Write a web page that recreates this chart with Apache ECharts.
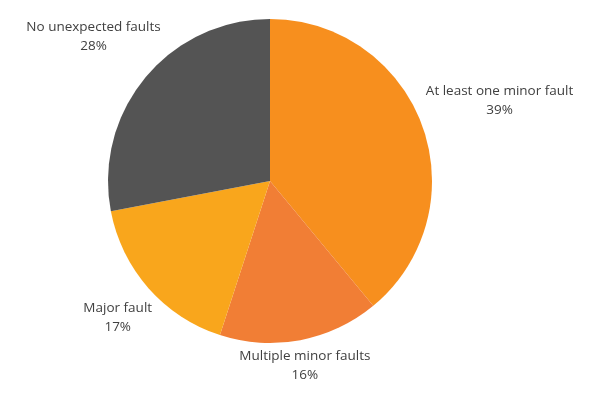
<!DOCTYPE html>
<html>
<head>
<meta charset="utf-8">
<script src="https://cdn.jsdelivr.net/npm/echarts@6/dist/echarts.min.js"></script>
<style>
html,body{margin:0;padding:0;background:#fff;}
#chart{width:600px;height:400px;}
</style>
</head>
<body>
<div id="chart"></div>
<script>
const categories = ['At least one minor fault', 'Multiple minor faults', 'Major fault', 'No unexpected faults'];
const values = [39, 16, 17, 28];
const colors = ['#F78F1E', '#F17E35', '#F9A61C', '#545454'];
const labelGap = [82, 24, 41, 67];

const chart = echarts.init(document.getElementById('chart'), null, {renderer: 'canvas'});
chart.setOption({
  animation: false,
  backgroundColor: '#ffffff',
  series: [{
    type: 'pie',
    center: [270, 181],
    radius: 162,
    startAngle: 90,
    clockwise: true,
    avoidLabelOverlap: false,
    data: categories.map((c, i) => ({
      name: c,
      value: values[i],
      itemStyle: {color: colors[i]},
      labelLine: {length: labelGap[i], length2: 0}
    })),
    label: {
      show: true,
      position: 'outside',
      distanceToLabelLine: 0,
      formatter: '{b}\n{d}%',
      fontFamily: 'Open Sans',
      fontSize: 13.5,
      lineHeight: 19,
      color: '#404040'
    },
    labelLine: {show: false},
    labelLayout: function () { return {align: 'center', verticalAlign: 'middle', dy: 2}; },
    itemStyle: {borderWidth: 0}
  }]
});
</script>
</body>
</html>
